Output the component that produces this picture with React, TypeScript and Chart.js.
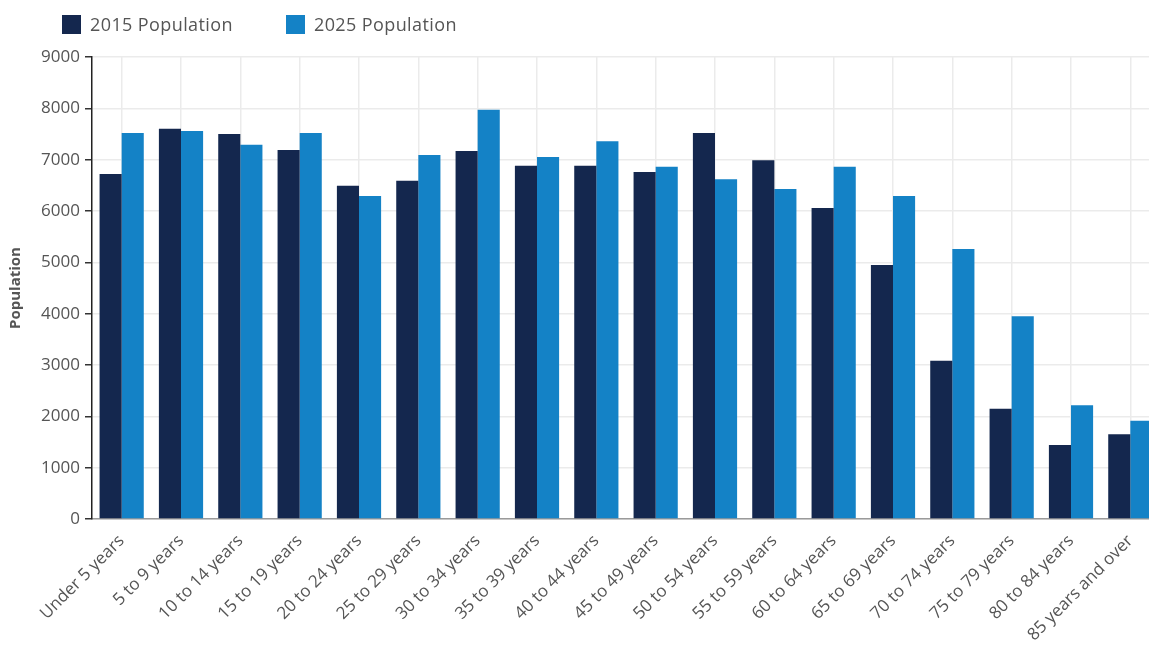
import React, { useEffect, useRef } from "react";
import { Chart, registerables } from "chart.js";

Chart.register(...registerables);

const categories = [
  "Under 5 years", "5 to 9 years", "10 to 14 years", "15 to 19 years",
  "20 to 24 years", "25 to 29 years", "30 to 34 years", "35 to 39 years",
  "40 to 44 years", "45 to 49 years", "50 to 54 years", "55 to 59 years",
  "60 to 64 years", "65 to 69 years", "70 to 74 years", "75 to 79 years",
  "80 to 84 years", "85 years and over",
];
const pop2015 = [6720, 7600, 7500, 7190, 6490, 6590, 7170, 6880, 6880, 6760, 7520, 6990, 6060, 4950, 3085, 2150, 1440, 1650];
const pop2025 = [7520, 7560, 7290, 7520, 6290, 7090, 7970, 7050, 7360, 6860, 6620, 6430, 6860, 6290, 5260, 3950, 2215, 1915];
const seriesLabels = ["2015 Population", "2025 Population"];
const seriesColors = ["#14274e", "#1482c6"];
const yTicks = [0, 1000, 2000, 3000, 4000, 5000, 6000, 7000, 8000, 9000];

const FONT = "'Open Sans', 'DejaVu Sans', sans-serif";
const TEXT = "#555555";

export default function App() {
  const ref = useRef<HTMLCanvasElement | null>(null);

  useEffect(() => {
    if (!ref.current) return;
    const chart = new Chart(ref.current, {
      type: "bar",
      data: {
        labels: categories,
        datasets: [
          { label: seriesLabels[0], data: pop2015, backgroundColor: seriesColors[0], borderWidth: 0 },
          { label: seriesLabels[1], data: pop2025, backgroundColor: seriesColors[1], borderWidth: 0 },
        ],
      },
      options: {
        animation: false,
        responsive: true,
        maintainAspectRatio: false,
        layout: { padding: { left: 4, top: 57, right: 0, bottom: 0 } },
        datasets: { bar: { categoryPercentage: 0.745, barPercentage: 1.0 } },
        plugins: {
          legend: { display: false },
          tooltip: { enabled: false },
        },
        scales: {
          x: {
            grid: { color: "#ebebeb", lineWidth: 1.5, offset: false, drawTicks: false },
            border: { color: "#9a9a9a", width: 1.5 },
            ticks: {
              autoSkip: false,
              maxRotation: 45,
              minRotation: 45,
              padding: 12,
              color: TEXT,
              font: { family: FONT, size: 17 },
            },
            afterFit: (scale: any) => { scale.height = 135; },
          },
          y: {
            min: 0,
            max: 9000,
            afterBuildTicks: (scale: any) => { scale.ticks = yTicks.map((v) => ({ value: v })); },
            grid: { color: "#ebebeb", lineWidth: 1.5, tickColor: "#333333", tickLength: 7 },
            border: { color: "#222222", width: 1.5 },
            ticks: {
              padding: 5,
              color: TEXT,
              font: { family: FONT, size: 17 },
              callback: (v: any) => String(v),
            },
            title: {
              display: true,
              text: "Population",
              color: TEXT,
              font: { family: FONT, size: 15, weight: "bold" },
              padding: { top: 3, bottom: 10 },
            },
            afterFit: (scale: any) => { scale.width = 88; },
          },
        },
      },
    });
    return () => chart.destroy();
  }, []);

  return (
    <div style={{ position: "fixed", left: 0, top: 0, width: 1149, height: 654, overflow: "hidden", background: "#fff" }}>
      <div style={{ position: "relative", width: 1160, height: 654 }}>
        <canvas ref={ref} />
        <div style={{ position: "absolute", left: 62, top: 14, display: "flex", alignItems: "center", fontFamily: FONT, fontSize: 18, letterSpacing: "0.4px", color: TEXT }}>
          {seriesLabels.map((l, i) => (
            <div key={l} style={{ display: "flex", alignItems: "center", marginRight: i === 0 ? 53 : 0 }}>
              <span style={{ display: "inline-block", width: 19, height: 19, background: seriesColors[i], marginRight: 9 }} />
              <span style={{ lineHeight: "20px" }}>{l}</span>
            </div>
          ))}
        </div>
      </div>
    </div>
  );
}
